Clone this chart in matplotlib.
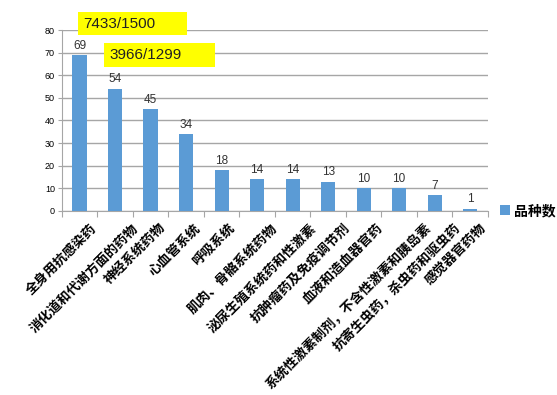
import matplotlib
matplotlib.use("Agg")
import matplotlib.pyplot as plt
from matplotlib.transforms import offset_copy
from matplotlib.patches import Rectangle

plt.rcParams['font.family'] = ['Noto Sans CJK SC', 'DejaVu Sans']

categories = ['全身用抗感染药', '消化道和代谢方面的药物', '神经系统药物', '心血管系统',
              '呼吸系统', '肌肉、骨骼系统药物', '泌尿生殖系统药和性激素',
              '抗肿瘤药及免疫调节剂', '血液和造血器官药',
              '系统性激素制剂，不含性激素和胰岛素', '抗寄生虫药，杀虫药和驱虫药',
              '感觉器官药物']
counts = [69, 54, 45, 34, 18, 14, 14, 13, 10, 10, 7, 1]
series_name = '品种数'
notes = ['7433/1500', '3966/1299']

bar_color = '#5B9BD5'
grid_color = '#a6a6a6'
num_font = ['Liberation Sans', 'DejaVu Sans']

fig = plt.figure(figsize=(5.57, 3.95), dpi=100)
ax = fig.add_axes([0.111, 0.466, 0.765, 0.458])

x = list(range(len(categories)))
ax.bar(x, counts, width=0.4, color=bar_color, label=series_name, zorder=3)
for xi, v in zip(x, counts):
    ax.text(xi, v + 1.5, str(v), ha='center', va='bottom', fontsize=8.5,
            color='#333333', family=num_font)

ax.set_xlim(-0.5, len(categories) - 0.5)
ax.set_ylim(0, 80)
ax.set_yticks(range(0, 81, 10))
ax.tick_params(axis='y', labelsize=6.5, length=3, color=grid_color, pad=2)
for lab in ax.get_yticklabels():
    lab.set_family(num_font)
ax.yaxis.grid(True, color=grid_color, linewidth=1, zorder=0)

# tick marks between categories, labels placed by hand below
ax.set_xticks([i - 0.5 for i in range(len(categories) + 1)])
ax.set_xticklabels([])
ax.tick_params(axis='x', length=4, color=grid_color)

for s in ['top', 'right']:
    ax.spines[s].set_visible(False)
ax.spines['left'].set_color(grid_color)
ax.spines['bottom'].set_color(grid_color)

# rotated category labels, shifted right a bit more for longer ones (like Excel)
renderer = fig.canvas.get_renderer()
base = ax.get_xaxis_transform()
for xi, name in zip(x, categories):
    t = ax.text(xi, 0, name, transform=base, rotation=45, ha='right', va='top',
                rotation_mode='anchor', fontsize=9.6, fontweight='bold')
    w = t.get_window_extent(renderer).width
    t.set_transform(offset_copy(base, fig=fig, x=0.16 * w - 2, y=-10,
                                units='dots'))

# yellow note boxes
boxes = [(0.140, 0.911, 0.196, 0.059), (0.187, 0.830, 0.199, 0.061)]
for (bx, by, bw, bh), note in zip(boxes, notes):
    fig.patches.append(Rectangle((bx, by), bw, bh, transform=fig.transFigure,
                                 fc='#ffff00', ec='none'))
    fig.text(bx + 0.01, by + bh / 2, note, fontsize=11, va='center',
             ha='left', family=num_font, color='#222222')

ax.legend(loc='center left', bbox_to_anchor=(1.0, 0.0), frameon=False,
          prop={'size': 10, 'weight': 'bold'}, handlelength=0.7,
          handleheight=0.7, handletextpad=0.3)

fig.savefig('out.png', dpi=100)
